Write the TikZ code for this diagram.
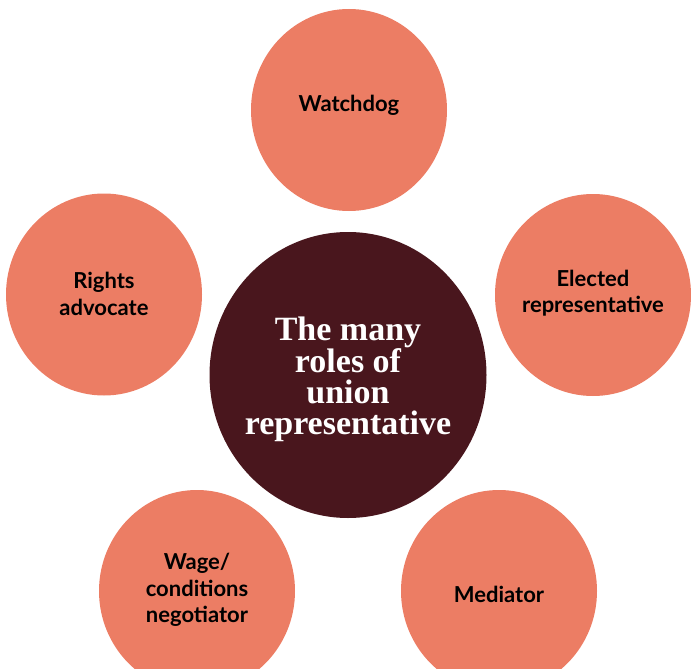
\documentclass[tikz,border=0pt]{standalone}
\usepackage{fontspec}
\setmainfont{Lato}
\newfontfamily\titlefont{Liberation Serif}
\usetikzlibrary{shapes.geometric}
\definecolor{salmon}{RGB}{236,125,100}
\definecolor{maroon}{RGB}{73,22,29}
\tikzset{
  role/.style={ellipse, fill=salmon, minimum width=196pt, minimum height=202pt, inner sep=0pt},
  rolelabel/.style={align=center, inner sep=0pt, font=\fontsize{22}{26.5}\selectfont\bfseries, text=black},
  hub/.style={ellipse, fill=maroon, minimum width=277pt, minimum height=286pt, inner sep=0pt},
  hublabel/.style={align=center, inner sep=0pt, font=\titlefont\fontsize{34}{31}\selectfont\bfseries, text=white}
}
\begin{document}
\begin{tikzpicture}[x=1pt,y=-1pt]
\useasboundingbox (0,0) rectangle (691,669);
\node[hub] (hub) at (348,375) {};
\node[hublabel] (hubL) at (348,379) {The many\\roles of\\union\\representative};
\node[role] (watch) at (349,110) {};
\node[rolelabel] (watchL) at (349,105) {Watchdog};
\node[role] (rights) at (104,294.5) {};
\node[rolelabel] (rightsL) at (104,294) {Rights\\advocate};
\node[role] (elected) at (593,295) {};
\node[rolelabel] (electedL) at (593,293) {Elected\\representative};
\node[role] (wage) at (197,591) {};
\node[rolelabel] (wageL) at (197,590) {Wage/\\conditions\\negotiator};
\node[role] (med) at (499,591) {};
\node[rolelabel] (medL) at (499,594) {Mediator};
\end{tikzpicture}
\end{document}
